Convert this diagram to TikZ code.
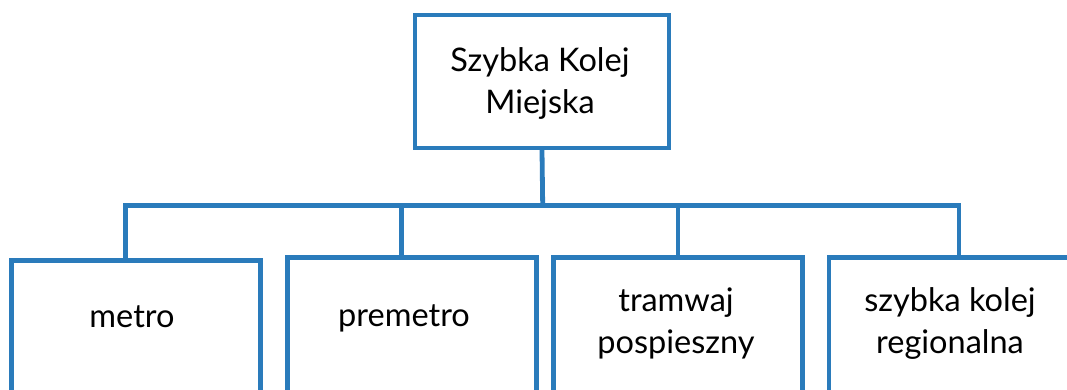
\documentclass[tikz,border=0pt]{standalone}
\usepackage{fontspec}
\setmainfont{Lato}
\definecolor{linkblue}{RGB}{42,123,187}
\tikzset{
  frame/.style={draw=linkblue, line width=4.8pt, inner sep=0pt},
  leaf/.style={frame, minimum width=249pt, minimum height=170pt, anchor=north},
  wire/.style={draw=linkblue, line width=4.8pt, line cap=rect},
  caption/.style={inner sep=0pt, anchor=base, font=\fontsize{32.5}{41.5}\selectfont}
}
\newcommand{\twolines}[2]{\begin{tabular}[t]{@{}c@{}}#1\\#2\end{tabular}}
\begin{document}
\begin{tikzpicture}[x=1pt,y=-1pt]
\useasboundingbox (0,0) rectangle (1067,389);
\clip (0,0) rectangle (1067,389);
% root box
\node[frame, minimum width=254pt, minimum height=133pt] (root) at (542,81.5) {};
\node[caption] (rootText) at (540,71.7) {\twolines{Szybka Kolej}{Miejska}};
% child boxes (their lower parts run off the page)
\node[leaf] (metro) at (136.1,258) {};
\node[leaf] (premetro) at (411.9,255) {};
\node[leaf] (tram) at (677.7,255) {};
\node[leaf] (skr) at (953.5,255) {};
\node[caption] (metroText) at (132,327) {metro};
\node[caption] (premetroText) at (404,326) {premetro};
\node[caption] (tramText) at (676,311.7) {\twolines{tramwaj}{pospieszny}};
\node[caption] (skrText) at (950,311.7) {\twolines{szybka kolej}{regionalna}};
% bus and branch points
\coordinate (bus) at (542.7,205.3);
\coordinate (j1) at (125.5,205.3);
\coordinate (j2) at (401.7,205.3);
\coordinate (j3) at (678,205.3);
\coordinate (j4) at (959,205.3);
\draw[wire] (root.south) -- (bus);
\draw[wire, line cap=butt] (j1 |- metro.north) -- (j1) -- (j4) -- (j4 |- skr.north);
\draw[wire, line cap=butt] (j2) -- (j2 |- premetro.north);
\draw[wire, line cap=butt] (j3) -- (j3 |- tram.north);
\end{tikzpicture}
\end{document}
